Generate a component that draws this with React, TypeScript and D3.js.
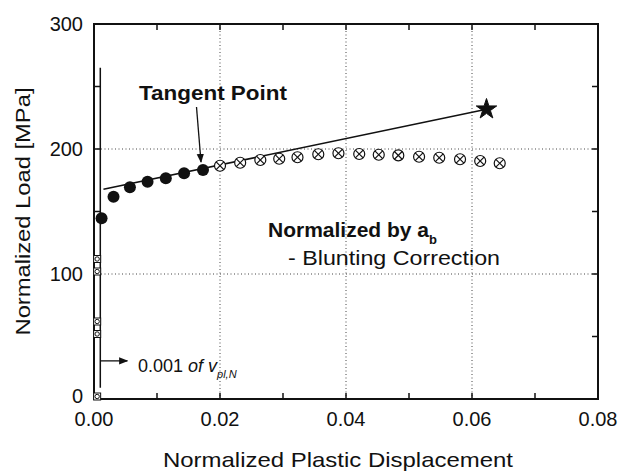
import React from 'react';
import * as d3 from 'd3';

// data
const elasticX = [0.0005, 0.0005, 0.0005, 0.0005, 0.0005];
const elasticY = [2, 52, 62, 102, 112];

const preX = [0.0012, 0.0031, 0.0057, 0.0085, 0.0114, 0.0143, 0.0173];
const preY = [144.6, 161.8, 169.4, 173.8, 176.6, 180.6, 183.2];

const postX = [0.02, 0.0232, 0.0264, 0.0294, 0.0323, 0.0356, 0.0388, 0.0421, 0.0452, 0.0483, 0.0516, 0.0548, 0.0581, 0.0613, 0.0644];
const postY = [186.6, 189, 191.2, 192.2, 193.4, 195.8, 196.6, 196, 195.4, 194.9, 193.8, 193, 191.8, 190.4, 188.6];

const tangentLineX = [0.0015, 0.0623];
const tangentLineY = [167.8, 231.8];
const starPoint = { x: 0.0623, y: 231.8 };

const offsetX = 0.001;
const offsetLineY = [9, 265];
const arrowY = 30.5;

const xTicks = [0, 0.02, 0.04, 0.06, 0.08];
const xMinor = [0.01, 0.03, 0.05, 0.07];
const yTicks = [0, 100, 200, 300];
const yMinor = [50, 150, 250];

const FONT = '"Liberation Sans", Arial, Helvetica, sans-serif';

function CrossCircle({ cx, cy, r }: { cx: number; cy: number; r: number }) {
  const d = r * Math.SQRT1_2;
  return (
    <g stroke="#111" strokeWidth={1.2} fill="none">
      <circle cx={cx} cy={cy} r={r} fill="#fff" />
      <line x1={cx - d} y1={cy - d} x2={cx + d} y2={cy + d} />
      <line x1={cx - d} y1={cy + d} x2={cx + d} y2={cy - d} />
    </g>
  );
}

export default function App() {
  const width = 622;
  const height = 475;
  const margin = { top: 24, right: 24, bottom: 76, left: 94 };

  const x = d3.scaleLinear().domain([0, 0.08]).range([margin.left, width - margin.right]);
  const y = d3.scaleLinear().domain([0, 300]).range([height - margin.bottom, margin.top]);

  const [x0, x1] = x.range();
  const [y0, y1] = y.range();
  const tick = 6;

  const line = d3.line<number>()
    .x((_, i) => x(tangentLineX[i]))
    .y(d => y(d));

  const star = d3.symbol().type(d3.symbolStar).size(130)();

  return (
    <svg width={width} height={height} style={{ position: 'absolute', left: 0, top: 0, background: '#fff' }}
      fontFamily={FONT}>
      <defs>
        <marker id="arr" viewBox="0 0 10 10" refX="9" refY="5" markerWidth="7" markerHeight="7" orient="auto">
          <path d="M0,1 L10,5 L0,9 z" fill="#111" />
        </marker>
      </defs>

      {/* grid */}
      <g stroke="#444" strokeWidth={1} strokeDasharray="1,2.5">
        {[0.02, 0.04, 0.06].map(t => (
          <line key={'gx' + t} x1={x(t)} x2={x(t)} y1={y1} y2={y0} />
        ))}
        {[100, 200].map(t => (
          <line key={'gy' + t} x1={x0} x2={x1} y1={y(t)} y2={y(t)} />
        ))}
      </g>

      {/* ticks, inward on all four sides */}
      <g stroke="#111" strokeWidth={1.5}>
        {xTicks.concat(xMinor).map(t => (
          <g key={'tx' + t}>
            <line x1={x(t)} x2={x(t)} y1={y0} y2={y0 - tick} />
            <line x1={x(t)} x2={x(t)} y1={y1} y2={y1 + tick} />
          </g>
        ))}
        {yTicks.concat(yMinor).map(t => (
          <g key={'ty' + t}>
            <line x1={x0} x2={x0 + tick} y1={y(t)} y2={y(t)} />
            <line x1={x1} x2={x1 - tick} y1={y(t)} y2={y(t)} />
          </g>
        ))}
      </g>

      {/* frame */}
      <rect x={x0} y={y1} width={x1 - x0} height={y0 - y1} fill="none" stroke="#111" strokeWidth={2} />

      {/* tick labels */}
      <g fontSize={20} fill="#111">
        {xTicks.map(t => (
          <text key={'lx' + t} x={x(t)} y={y0 + 27} textAnchor="middle">{t.toFixed(2)}</text>
        ))}
        {yTicks.map(t => (
          <text key={'ly' + t} x={x0 - 11} y={y(t) + (t === 0 ? 4 : 6.5)} textAnchor="end">{t}</text>
        ))}
      </g>

      {/* axis titles */}
      <text x={(x0 + x1) / 2 - 8} y={467} textAnchor="middle" fontSize={21} textLength={350}
        lengthAdjust="spacingAndGlyphs" fill="#111">Normalized Plastic Displacement</text>
      <text transform={`translate(30,${(y0 + y1) / 2}) rotate(-90)`} textAnchor="middle" fontSize={21}
        textLength={248} lengthAdjust="spacingAndGlyphs" fill="#111">Normalized Load [MPa]</text>

      {/* 0.001 offset line */}
      <line x1={x(offsetX)} x2={x(offsetX)} y1={y(offsetLineY[0])} y2={y(offsetLineY[1])} stroke="#111" strokeWidth={1.5} />
      <line x1={x(offsetX)} x2={x(offsetX) + 27} y1={y(arrowY)} y2={y(arrowY)} stroke="#111" strokeWidth={1.3}
        markerEnd="url(#arr)" />
      <text x={138} y={372} fontSize={18} fill="#111">
        0.001 <tspan fontStyle="italic">of v</tspan>
        <tspan fontSize={11} dy={6} fontStyle="italic">pl,N</tspan>
      </text>

      {/* elastic points */}
      {elasticX.map((d, i) => (
        <g key={'e' + i} stroke="#111" strokeWidth={1} fill="#fff">
          <rect x={x(d) - 3.5} y={y(elasticY[i]) - 3.5} width={7} height={7} />
          <circle cx={x(d)} cy={y(elasticY[i])} r={2.2} fill="none" />
        </g>
      ))}

      {/* tangent line */}
      <path d={line(tangentLineY) || ''} fill="none" stroke="#111" strokeWidth={1.6} />

      {/* post-tangent crossed circles */}
      {postX.map((d, i) => (
        <CrossCircle key={'p' + i} cx={x(d)} cy={y(postY[i])} r={5.5} />
      ))}

      {/* pre-tangent filled circles */}
      {preX.map((d, i) => (
        <circle key={'f' + i} cx={x(d)} cy={y(preY[i])} r={6} fill="#111" />
      ))}

      {/* star */}
      <path d={star || ''} transform={`translate(${x(starPoint.x)},${y(starPoint.y)})`} fill="#111"
        stroke="#111" strokeWidth={1} />

      {/* annotations */}
      <text x={213} y={100} textAnchor="middle" fontSize={21} fontWeight="bold" textLength={148}
        lengthAdjust="spacingAndGlyphs" fill="#111">Tangent Point</text>
      <line x1={196.5} y1={107} x2={201} y2={162} stroke="#111" strokeWidth={1.3} markerEnd="url(#arr)" />

      <text x={268} y={237} fontSize={21} fontWeight="bold" fill="#111">
        Normalized by a<tspan fontSize={13} dy={7}>b</tspan>
      </text>
      <text x={288} y={265} fontSize={21} textLength={212} lengthAdjust="spacingAndGlyphs" fill="#111">
        - Blunting Correction
      </text>
    </svg>
  );
}
